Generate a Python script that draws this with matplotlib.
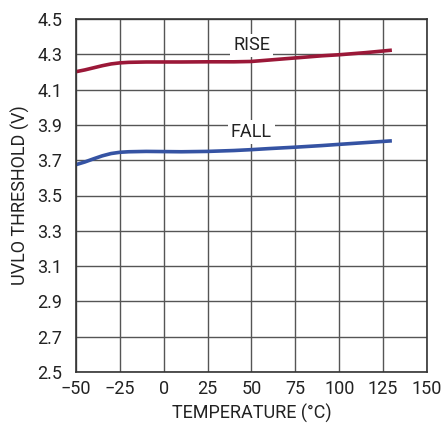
import matplotlib.pyplot as plt

plt.rcParams['font.family'] = ['Roboto', 'DejaVu Sans']

temp = [-50, -45, -40, -35, -30, -25, -20, -10, 0, 10, 25, 40, 50, 60, 75, 90, 100, 115, 130]
rise = [4.202, 4.212, 4.224, 4.236, 4.246, 4.252, 4.255, 4.257, 4.257, 4.257, 4.258, 4.258, 4.260, 4.268, 4.280, 4.292, 4.298, 4.310, 4.324]
fall = [3.675, 3.690, 3.708, 3.725, 3.738, 3.745, 3.748, 3.750, 3.749, 3.748, 3.750, 3.755, 3.760, 3.766, 3.774, 3.783, 3.790, 3.800, 3.810]

xticks = [-50, -25, 0, 25, 50, 75, 100, 125, 150]
xlabels = ['\u221250', '\u221225', '0', '25', '50', '75', '100', '125', '150']
yticks = [2.5, 2.7, 2.9, 3.1, 3.3, 3.5, 3.7, 3.9, 4.1, 4.3, 4.5]

fig = plt.figure(figsize=(4.42, 4.25), dpi=100)
ax = fig.add_axes([0.172, 0.125, 0.794, 0.830])

ax.plot(temp, rise, color='#9b1838', lw=2.6, solid_capstyle='butt')
ax.plot(temp, fall, color='#3553a3', lw=2.6, solid_capstyle='butt')

ax.set_xlim(-50, 150)
ax.set_ylim(2.5, 4.5)
ax.set_xticks(xticks)
ax.set_xticklabels(xlabels)
ax.set_yticks(yticks)
ax.set_yticklabels([f'{v:.1f}' for v in yticks])
ax.grid(True, color='#555555', lw=1.0)
ax.tick_params(axis='x', length=0, labelsize=13, colors='#222222', pad=6)
ax.tick_params(axis='y', length=0, labelsize=13, colors='#222222', pad=10)
for s in ax.spines.values():
    s.set_color('#333333')
    s.set_linewidth(1.2)

ax.set_xlabel('TEMPERATURE (\u00b0C)', fontsize=13, color='#222222', labelpad=4)
ax.set_ylabel('UVLO THRESHOLD (V)', fontsize=13, color='#222222', labelpad=5)

box = dict(facecolor='white', edgecolor='none', pad=2)
ax.text(50, 4.352, 'RISE', ha='center', va='center', fontsize=13, color='#222222', bbox=box)
ax.text(50, 3.86, 'FALL', ha='center', va='center', fontsize=13, color='#222222', bbox=box)

fig.savefig('out.png', dpi=100)
